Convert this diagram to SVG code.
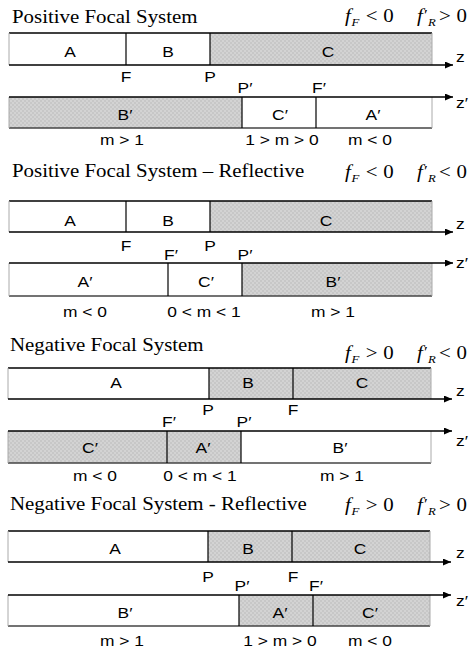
<svg xmlns="http://www.w3.org/2000/svg" width="472" height="650" viewBox="0 0 472 650">
<style>
.t{font-family:"Liberation Serif","Times New Roman",serif;font-size:18px;fill:#000}
.s{font-family:"Liberation Sans",Arial,sans-serif;font-size:15px;text-anchor:middle;fill:#000}
.z{font-family:"Liberation Sans",Arial,sans-serif;font-size:15px;fill:#000}
.m{font-family:"Liberation Serif","Times New Roman",serif;font-size:18px;fill:#000}
.i{font-style:italic}
.b{font-style:italic;font-size:11px}
.p{font-size:15px}
.top{stroke:#000;stroke-width:1.3}
.bot{stroke:#444;stroke-width:1.3}
.edge{stroke:#aaa;stroke-width:1}
.div{stroke:#000;stroke-width:1.2}
.ax{stroke:#000;stroke-width:1.4;fill:none;marker-end:url(#ar)}
.gr{fill:url(#gp)}
</style>
<defs>
<pattern id="gp" width="4" height="4" patternUnits="userSpaceOnUse"><rect width="4" height="4" fill="#d3d3d3"/><rect width="2" height="2" fill="#c7c7c7"/><rect x="2" y="2" width="2" height="2" fill="#c7c7c7"/></pattern>
<marker id="ar" markerUnits="userSpaceOnUse" markerWidth="9" markerHeight="7" refX="8" refY="3.5" orient="auto"><path d="M0,0 L8,3.5 L0,7 Z" fill="#000"/></marker>
</defs>
<rect width="472" height="650" fill="#fff"/>

<!-- Section 1 -->
<g id="sec1">
<text class="t" transform="matrix(1.16 0 0 1 12 23)">Positive Focal System</text>
<text class="m" transform="matrix(1.16 0 0 1 345 22)"><tspan class="i">f</tspan><tspan class="b" x="5.5" dy="4">F</tspan><tspan x="18" dy="-4">&lt;</tspan><tspan x="33">0</tspan></text>
<text class="m" transform="matrix(1.16 0 0 1 417 22)"><tspan class="i">f</tspan><tspan class="p" x="6" dy="-2">′</tspan><tspan class="b" x="9.5" dy="6">R</tspan><tspan x="19" dy="-4">&gt;</tspan><tspan x="34">0</tspan></text>
<g id="s1A"><text class="s" transform="matrix(1.16 0 0 1 70 57)">A</text></g>
<g id="s1B"><text class="s" transform="matrix(1.16 0 0 1 168 57)">B</text></g>
<g id="s1C"><rect class="gr" x="210" y="33" width="222" height="32"/><text class="s" transform="matrix(1.16 0 0 1 328 57)">C</text></g>
<line class="top" x1="9" y1="33" x2="432" y2="33"/>
<line class="edge" x1="9" y1="33" x2="9" y2="65"/><line class="edge" x1="432" y1="33" x2="432" y2="65"/>
<line class="div" x1="126" y1="33" x2="126" y2="65"/><line class="div" x1="210" y1="33" x2="210" y2="65"/>
<text class="s" transform="matrix(1.16 0 0 1 126 82)">F</text>
<text class="s" transform="matrix(1.16 0 0 1 210 82)">P</text>
<text class="s" transform="matrix(1.16 0 0 1 245 93)">P′</text>
<text class="s" transform="matrix(1.16 0 0 1 319 93)">F′</text>
<g id="s1Bp"><rect class="gr" x="9" y="97" width="233" height="31"/><text class="s" transform="matrix(1.16 0 0 1 125 120)">B′</text></g>
<g id="s1Cp"><text class="s" transform="matrix(1.16 0 0 1 280 120)">C′</text></g>
<g id="s1Ap"><text class="s" transform="matrix(1.16 0 0 1 373 120)">A′</text></g>
<line class="bot" x1="9" y1="128" x2="432" y2="128"/>
<line class="edge" x1="9" y1="97" x2="9" y2="128"/><line class="edge" x1="432" y1="97" x2="432" y2="128"/>
<line class="div" x1="242" y1="97" x2="242" y2="128"/><line class="div" x1="316" y1="97" x2="316" y2="128"/>
<text class="s" transform="matrix(1.16 0 0 1 122 145)">m &gt; 1</text>
<text class="s" transform="matrix(1.16 0 0 1 282 145)">1 &gt; m &gt; 0</text>
<text class="s" transform="matrix(1.16 0 0 1 370 145)">m &lt; 0</text>
<text class="z" transform="matrix(1.16 0 0 1 456 62)">z</text>
<text class="z" transform="matrix(1.16 0 0 1 456 108)">z′</text>
</g>

<!-- Section 2 -->
<g id="sec2">
<text class="t" transform="matrix(1.16 0 0 1 12 177)">Positive Focal System – Reflective</text>
<text class="m" transform="matrix(1.16 0 0 1 345 178)"><tspan class="i">f</tspan><tspan class="b" x="5.5" dy="4">F</tspan><tspan x="18" dy="-4">&lt;</tspan><tspan x="33">0</tspan></text>
<text class="m" transform="matrix(1.16 0 0 1 417 178)"><tspan class="i">f</tspan><tspan class="p" x="6" dy="-2">′</tspan><tspan class="b" x="9.5" dy="6">R</tspan><tspan x="19" dy="-4">&lt;</tspan><tspan x="34">0</tspan></text>
<g id="s2A"><text class="s" transform="matrix(1.16 0 0 1 70 226)">A</text></g>
<g id="s2B"><text class="s" transform="matrix(1.16 0 0 1 168 226)">B</text></g>
<g id="s2C"><rect class="gr" x="210" y="201" width="222" height="31"/><text class="s" transform="matrix(1.16 0 0 1 326 226)">C</text></g>
<line class="top" x1="9" y1="201" x2="432" y2="201"/>
<line class="edge" x1="9" y1="201" x2="9" y2="232"/><line class="edge" x1="432" y1="201" x2="432" y2="232"/>
<line class="div" x1="126" y1="201" x2="126" y2="232"/><line class="div" x1="210" y1="201" x2="210" y2="232"/>
<text class="s" transform="matrix(1.16 0 0 1 126 251)">F</text>
<text class="s" transform="matrix(1.16 0 0 1 210 251)">P</text>
<text class="s" transform="matrix(1.16 0 0 1 171 260)">F′</text>
<text class="s" transform="matrix(1.16 0 0 1 245 260)">P′</text>
<g id="s2Ap"><text class="s" transform="matrix(1.16 0 0 1 85 287)">A′</text></g>
<g id="s2Cp"><text class="s" transform="matrix(1.16 0 0 1 206 287)">C′</text></g>
<g id="s2Bp"><rect class="gr" x="242" y="263" width="190" height="33"/><text class="s" transform="matrix(1.16 0 0 1 333 287)">B′</text></g>
<line class="bot" x1="9" y1="296" x2="432" y2="296"/>
<line class="edge" x1="9" y1="263" x2="9" y2="296"/><line class="edge" x1="432" y1="263" x2="432" y2="296"/>
<line class="div" x1="168" y1="263" x2="168" y2="296"/><line class="div" x1="242" y1="263" x2="242" y2="296"/>
<text class="s" transform="matrix(1.16 0 0 1 85 317)">m &lt; 0</text>
<text class="s" transform="matrix(1.16 0 0 1 204 317)">0 &lt; m &lt; 1</text>
<text class="s" transform="matrix(1.16 0 0 1 333 317)">m &gt; 1</text>
<text class="z" transform="matrix(1.16 0 0 1 456 229)">z</text>
<text class="z" transform="matrix(1.16 0 0 1 456 268)">z′</text>
</g>

<!-- Section 3 -->
<g id="sec3">
<text class="t" transform="matrix(1.16 0 0 1 10 351)">Negative Focal System</text>
<text class="m" transform="matrix(1.16 0 0 1 345 359)"><tspan class="i">f</tspan><tspan class="b" x="5.5" dy="4">F</tspan><tspan x="18" dy="-4">&gt;</tspan><tspan x="33">0</tspan></text>
<text class="m" transform="matrix(1.16 0 0 1 417 359)"><tspan class="i">f</tspan><tspan class="p" x="6" dy="-2">′</tspan><tspan class="b" x="9.5" dy="6">R</tspan><tspan x="19" dy="-4">&lt;</tspan><tspan x="34">0</tspan></text>
<g id="s3A"><text class="s" transform="matrix(1.16 0 0 1 116 388)">A</text></g>
<g id="s3B"><rect class="gr" x="209" y="368" width="222" height="31"/><text class="s" transform="matrix(1.16 0 0 1 248 388)">B</text></g>
<g id="s3C"><text class="s" transform="matrix(1.16 0 0 1 362 388)">C</text></g>
<line class="top" x1="8" y1="368" x2="431" y2="368"/>
<line class="edge" x1="8" y1="368" x2="8" y2="399"/><line class="edge" x1="431" y1="368" x2="431" y2="399"/>
<line class="div" x1="209" y1="368" x2="209" y2="399"/><line class="div" x1="293" y1="368" x2="293" y2="399"/>
<text class="s" transform="matrix(1.16 0 0 1 208 415)">P</text>
<text class="s" transform="matrix(1.16 0 0 1 293 415)">F</text>
<text class="s" transform="matrix(1.16 0 0 1 169 427)">F′</text>
<text class="s" transform="matrix(1.16 0 0 1 244 427)">P′</text>
<g id="s3Cp"><rect class="gr" x="8" y="431" width="233" height="32"/><text class="s" transform="matrix(1.16 0 0 1 90 453)">C′</text></g>
<g id="s3Ap"><text class="s" transform="matrix(1.16 0 0 1 203 453)">A′</text></g>
<g id="s3Bp"><text class="s" transform="matrix(1.16 0 0 1 340 453)">B′</text></g>
<line class="bot" x1="8" y1="463" x2="431" y2="463"/>
<line class="edge" x1="8" y1="431" x2="8" y2="463"/><line class="edge" x1="431" y1="431" x2="431" y2="463"/>
<line class="div" x1="167" y1="431" x2="167" y2="463"/><line class="div" x1="241" y1="431" x2="241" y2="463"/>
<text class="s" transform="matrix(1.16 0 0 1 95 481)">m &lt; 0</text>
<text class="s" transform="matrix(1.16 0 0 1 200 481)">0 &lt; m &lt; 1</text>
<text class="s" transform="matrix(1.16 0 0 1 342 481)">m &gt; 1</text>
<text class="z" transform="matrix(1.16 0 0 1 456 396)">z</text>
<text class="z" transform="matrix(1.16 0 0 1 456 446)">z′</text>
</g>

<!-- Section 4 -->
<g id="sec4">
<text class="t" transform="matrix(1.16 0 0 1 10 510)">Negative Focal System - Reflective</text>
<text class="m" transform="matrix(1.16 0 0 1 345 511)"><tspan class="i">f</tspan><tspan class="b" x="5.5" dy="4">F</tspan><tspan x="18" dy="-4">&gt;</tspan><tspan x="33">0</tspan></text>
<text class="m" transform="matrix(1.16 0 0 1 417 511)"><tspan class="i">f</tspan><tspan class="p" x="6" dy="-2">′</tspan><tspan class="b" x="9.5" dy="6">R</tspan><tspan x="19" dy="-4">&gt;</tspan><tspan x="34">0</tspan></text>
<g id="s4A"><text class="s" transform="matrix(1.16 0 0 1 115 554)">A</text></g>
<g id="s4B"><rect class="gr" x="208" y="531" width="222" height="31"/><text class="s" transform="matrix(1.16 0 0 1 248 554)">B</text></g>
<g id="s4C"><text class="s" transform="matrix(1.16 0 0 1 360 554)">C</text></g>
<line class="top" x1="8" y1="531" x2="430" y2="531"/>
<line class="edge" x1="8" y1="531" x2="8" y2="562"/><line class="edge" x1="430" y1="531" x2="430" y2="562"/>
<line class="div" x1="208" y1="531" x2="208" y2="562"/><line class="div" x1="292" y1="531" x2="292" y2="562"/>
<text class="s" transform="matrix(1.16 0 0 1 208 582)">P</text>
<text class="s" transform="matrix(1.16 0 0 1 293 582)">F</text>
<text class="s" transform="matrix(1.16 0 0 1 242 591)">P′</text>
<text class="s" transform="matrix(1.16 0 0 1 316 591)">F′</text>
<g id="s4Bp"><text class="s" transform="matrix(1.16 0 0 1 125 618)">B′</text></g>
<g id="s4Ap"><rect class="gr" x="239" y="595" width="191" height="31"/><text class="s" transform="matrix(1.16 0 0 1 280 618)">A′</text></g>
<g id="s4Cp"><text class="s" transform="matrix(1.16 0 0 1 370 618)">C′</text></g>
<line class="bot" x1="8" y1="626" x2="430" y2="626"/>
<line class="edge" x1="8" y1="595" x2="8" y2="626"/><line class="edge" x1="430" y1="595" x2="430" y2="626"/>
<line class="div" x1="239" y1="595" x2="239" y2="626"/><line class="div" x1="313" y1="595" x2="313" y2="626"/>
<text class="s" transform="matrix(1.16 0 0 1 122 646)">m &gt; 1</text>
<text class="s" transform="matrix(1.16 0 0 1 280 646)">1 &gt; m &gt; 0</text>
<text class="s" transform="matrix(1.16 0 0 1 370 646)">m &lt; 0</text>
<text class="z" transform="matrix(1.16 0 0 1 456 558)">z</text>
<text class="z" transform="matrix(1.16 0 0 1 456 606)">z′</text>
</g>

<!-- Axes (connectors) -->
<g id="connectors">
<line class="ax" x1="9" y1="65" x2="453" y2="65"/>
<line class="ax" x1="9" y1="97" x2="453" y2="97"/>
<line class="ax" x1="9" y1="232" x2="453" y2="232"/>
<line class="ax" x1="9" y1="263" x2="453" y2="263"/>
<line class="ax" x1="8" y1="399" x2="452" y2="399"/>
<line class="ax" x1="8" y1="431" x2="452" y2="431"/>
<line class="ax" x1="8" y1="562" x2="451" y2="562"/>
<line class="ax" x1="8" y1="595" x2="451" y2="595"/>
</g>
</svg>
